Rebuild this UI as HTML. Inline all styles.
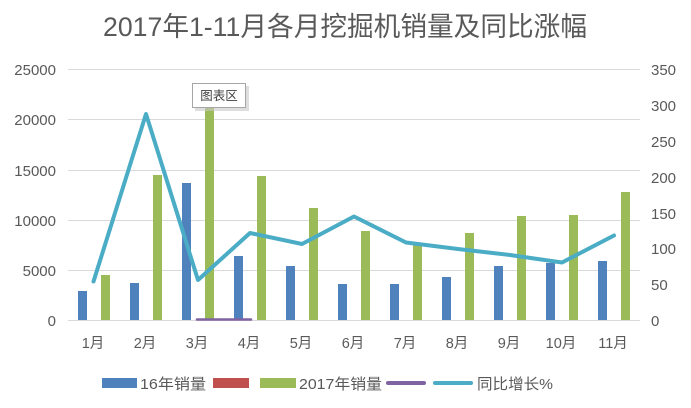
<!DOCTYPE html>
<html><head><meta charset="utf-8"><style>
html,body{margin:0;padding:0;background:#fff;}
svg{display:block;}
text{font-family:"Liberation Sans","Noto Sans CJK SC",sans-serif;fill:#595959;}
</style></head><body>
<svg width="691" height="408" viewBox="0 0 691 408" xmlns="http://www.w3.org/2000/svg">
<rect width="691" height="408" fill="#fff"/>
<text x="345" y="36" font-size="27" text-anchor="middle" textLength="484" lengthAdjust="spacingAndGlyphs">2017年1-11月各月挖掘机销量及同比涨幅</text>
<!-- grid -->
<g stroke="#D9D9D9" stroke-width="1">
<line x1="68" y1="69.5" x2="640" y2="69.5"/>
<line x1="68" y1="119.5" x2="640" y2="119.5"/>
<line x1="68" y1="170.5" x2="640" y2="170.5"/>
<line x1="68" y1="220.5" x2="640" y2="220.5"/>
<line x1="68" y1="270.5" x2="640" y2="270.5"/>
<line x1="68" y1="320.5" x2="640" y2="320.5"/>
</g>
<!-- left axis labels -->
<g font-size="15" text-anchor="end">
<text x="56" y="75">25000</text>
<text x="56" y="125">20000</text>
<text x="56" y="176">15000</text>
<text x="56" y="226">10000</text>
<text x="56" y="276">5000</text>
<text x="56" y="326">0</text>
</g>
<g font-size="15" text-anchor="start">
<text x="651" y="75">350</text>
<text x="651" y="111">300</text>
<text x="651" y="147">250</text>
<text x="651" y="183">200</text>
<text x="651" y="219">150</text>
<text x="651" y="254">100</text>
<text x="651" y="290">50</text>
<text x="651" y="326">0</text>
</g>
<!-- blue bars -->
<g fill="#4F81BD">
<rect x="78" y="291" width="9" height="29"/>
<rect x="130" y="283" width="9" height="37"/>
<rect x="182" y="183" width="9" height="137"/>
<rect x="234" y="256" width="9" height="64"/>
<rect x="286" y="266" width="9" height="54"/>
<rect x="338" y="284" width="9" height="36"/>
<rect x="390" y="284" width="9" height="36"/>
<rect x="442" y="277" width="9" height="43"/>
<rect x="494" y="266" width="9" height="54"/>
<rect x="546" y="263" width="9" height="57"/>
<rect x="598" y="261" width="9" height="59"/>
</g>
<!-- green bars -->
<g fill="#9BBB59">
<rect x="101" y="275" width="9" height="45"/>
<rect x="153" y="175" width="9" height="145"/>
<rect x="205" y="100" width="9" height="220"/>
<rect x="257" y="176" width="9" height="144"/>
<rect x="309" y="208" width="9" height="112"/>
<rect x="361" y="231" width="9" height="89"/>
<rect x="413" y="243" width="9" height="77"/>
<rect x="465" y="233" width="9" height="87"/>
<rect x="517" y="216" width="9" height="104"/>
<rect x="569" y="215" width="9" height="105"/>
<rect x="621" y="192" width="9" height="128"/>
</g>
<!-- purple line -->
<line x1="197" y1="319.5" x2="251" y2="319.5" stroke="#8064A2" stroke-width="2.5" stroke-linecap="round"/>
<!-- teal line -->
<polyline fill="none" stroke="#4BACC6" stroke-width="4" stroke-linejoin="round" stroke-linecap="round"
 points="93.5,281.5 146,114 198,280 250,233 302,244 354,216.5 406,242.5 458,249 510,255 562,262.5 614,235.5"/>
<!-- x labels -->
<g font-size="14.5" text-anchor="middle">
<text x="93" y="348">1月</text>
<text x="145" y="348">2月</text>
<text x="197" y="348">3月</text>
<text x="249" y="348">4月</text>
<text x="301" y="348">5月</text>
<text x="353" y="348">6月</text>
<text x="405" y="348">7月</text>
<text x="457" y="348">8月</text>
<text x="509" y="348">9月</text>
<text x="561" y="348">10月</text>
<text x="613" y="348">11月</text>
</g>
<!-- tooltip -->
<rect x="195" y="86" width="54" height="25" fill="#c8c8c8" opacity="0.6"/>
<rect x="192.5" y="83.5" width="53" height="24" fill="#fff" stroke="#a6a6a6" stroke-width="1"/>
<text x="219" y="100" font-size="12.5" text-anchor="middle" style="fill:#404040">图表区</text>
<!-- legend -->
<rect x="102" y="378" width="35" height="10" fill="#4F81BD"/>
<text x="140" y="389" font-size="15" textLength="66" lengthAdjust="spacingAndGlyphs">16年销量</text>
<rect x="213" y="378" width="36" height="10" fill="#C0504D"/>
<rect x="260" y="378" width="36" height="10" fill="#9BBB59"/>
<text x="299" y="389" font-size="15" textLength="83" lengthAdjust="spacingAndGlyphs">2017年销量</text>
<line x1="388" y1="383" x2="424" y2="383" stroke="#8064A2" stroke-width="4" stroke-linecap="round"/>
<line x1="435" y1="383" x2="471" y2="383" stroke="#4BACC6" stroke-width="4" stroke-linecap="round"/>
<text x="477" y="389" font-size="15" textLength="76" lengthAdjust="spacingAndGlyphs">同比增长%</text>
</svg>
</body></html>
